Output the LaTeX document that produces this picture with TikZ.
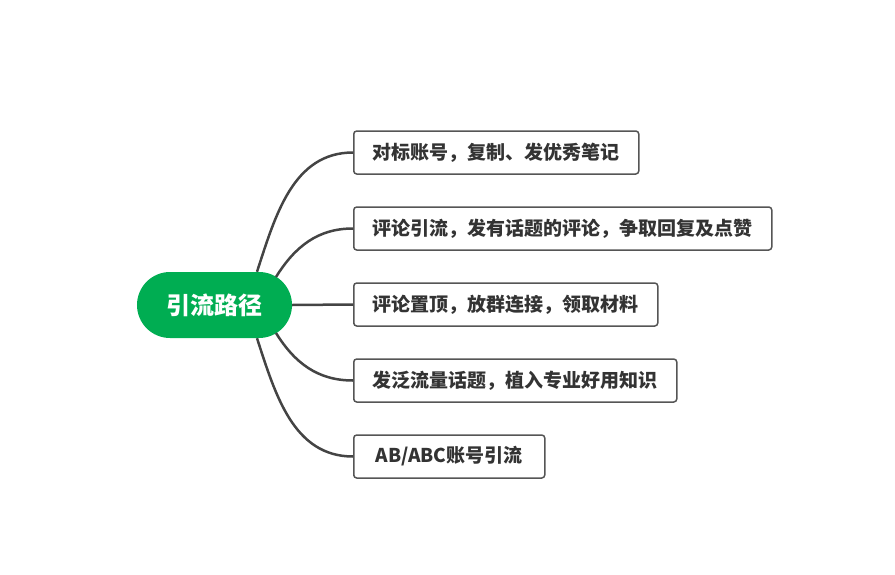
\documentclass[tikz,border=0pt]{standalone}
\usepackage{fontspec}
\setmainfont{Noto Sans CJK SC}
\usetikzlibrary{positioning}
\definecolor{rootgreen}{HTML}{00AD52}
\definecolor{boxline}{HTML}{555555}
\definecolor{connline}{HTML}{444444}
\definecolor{boxtext}{HTML}{333333}
\tikzstyle{rootnode} = [rectangle, rounded corners=33pt, minimum width=155pt, minimum height=66pt, text centered, fill=rootgreen, text=white, font=\fontsize{24}{28}\selectfont\bfseries]
\tikzstyle{leafbox} = [rectangle, rounded corners=3pt, minimum height=43pt, inner xsep=19pt, draw=boxline, line width=1.5pt, text=boxtext, font=\fontsize{19}{23}\selectfont\bfseries]
\tikzstyle{conn} = [line width=2.5pt, draw=connline]

\begin{document}
\begin{tikzpicture}[node distance=76pt]
\useasboundingbox (-214.5pt,-269pt) rectangle (680.5pt,305pt);

\node (root) [rootnode] {引流路径};
\node (b1) [leafbox, anchor=west] at (138.5pt,152.5pt) {对标账号，复制、发优秀笔记};
\node (b2) [leafbox, below=of b1.west, anchor=west] {评论引流，发有话题的评论，争取回复及点赞};
\node (b3) [leafbox, below=of b2.west, anchor=west] {评论置顶，放群连接，领取材料};
\node (b4) [leafbox, below=of b3.west, anchor=west] {发泛流量话题，植入专业好用知识};
\node (b5) [leafbox, below=of b4.west, anchor=west, minimum width=191pt] {AB/ABC账号引流};

\coordinate (s1) at ([xshift=42.5pt]root.north);
\coordinate (s2) at ([shift={(61.5pt,28pt)}]root.center);
\coordinate (s4) at ([shift={(61.5pt,-28pt)}]root.center);
\coordinate (s5) at ([xshift=42.5pt]root.south);

\draw [conn] (s1) to[out=72, in=180] (b1.west);
\draw [conn] (s2) to[out=58, in=180] (b2.west);
\draw [conn] (root.east) -- (b3.west);
\draw [conn] (s4) to[out=-58, in=180] (b4.west);
\draw [conn] (s5) to[out=-72, in=180] (b5.west);

\end{tikzpicture}
\end{document}
